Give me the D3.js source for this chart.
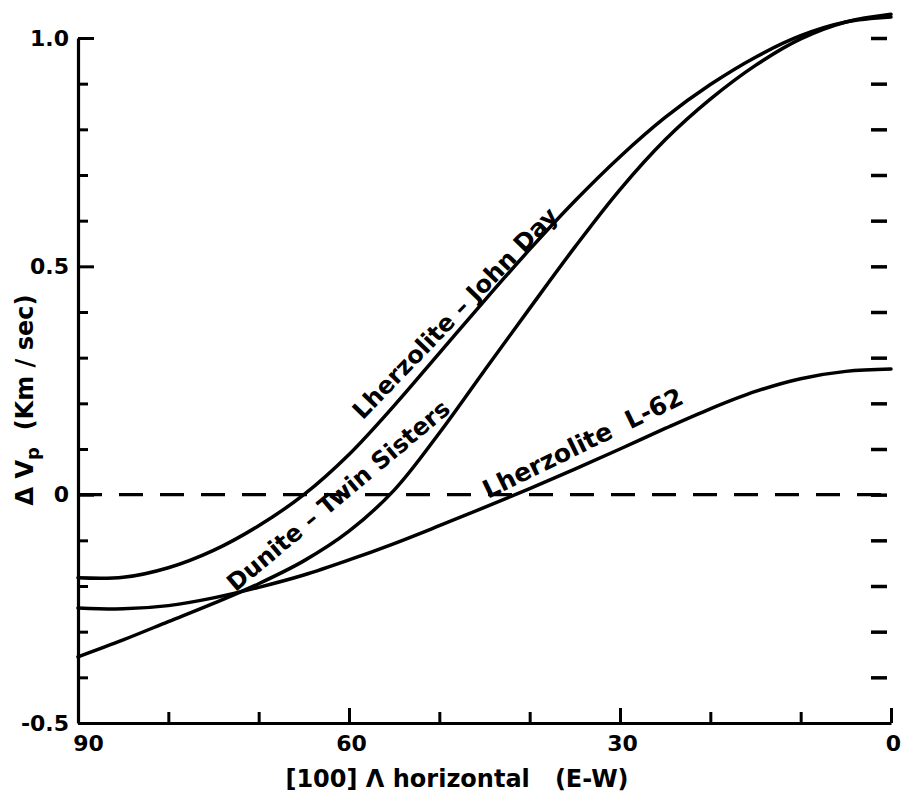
<!DOCTYPE html>
<html lang="en">
  <head>
    <meta charset="UTF-8" />
    <title>ΔVp vs [100] angle</title>
    <style type="text/css">
      body {
        margin: 0;
        background: #fff;
      }
      text {
        font-family: 'DejaVu Sans', sans-serif;
        font-weight: bold;
        fill: #000;
      }
    </style>
    <script src="https://d3js.org/d3.v7.min.js"></script>
  </head>
  <body>
    <div class="chart"></div>
    <script type="text/javascript">
      // angle between [100] and horizontal (E-W), degrees
      const angles = [90, 85, 80, 75, 70, 65, 60, 55, 50, 45, 40, 35, 30, 25, 20, 15, 10, 5, 0]
      // delta Vp (km/sec)
      const johnDay = [-0.182, -0.181, -0.16, -0.122, -0.068, 0.0, 0.088, 0.195, 0.31, 0.425, 0.537, 0.643, 0.74, 0.826, 0.898, 0.958, 1.005, 1.035, 1.046]
      const twinSisters = [-0.355, -0.318, -0.278, -0.238, -0.195, -0.145, -0.08, 0.01, 0.135, 0.272, 0.408, 0.542, 0.668, 0.777, 0.866, 0.94, 0.998, 1.035, 1.052]
      const l62 = [-0.248, -0.25, -0.243, -0.226, -0.203, -0.176, -0.143, -0.107, -0.068, -0.028, 0.013, 0.056, 0.1, 0.145, 0.188, 0.226, 0.254, 0.27, 0.275]

      const seriesValues = [johnDay, twinSisters, l62]
      // curve labels: text, [angle, value] of baseline centre, rotation
      const labelText = ['Lherzolite – John Day', 'Dunite – Twin Sisters', 'Lherzolite  L-62']
      const labelAt = [[47.6, 0.385], [60.6, -0.016], [33.7, 0.096]]
      const labelRot = [-46, -40, -26]

      const xTicks = [90, 80, 70, 60, 50, 40, 30, 20, 10, 0]
      const yTicks = [-0.5, -0.4, -0.3, -0.2, -0.1, 0, 0.1, 0.2, 0.3, 0.4, 0.5, 0.6, 0.7, 0.8, 0.9, 1.0]
      const yTickLabels = { '-0.5': '-0.5', '0': '0', '0.5': '0.5', '1': '1.0' }
      const xTickLabels = { 90: '90', 60: '60', 30: '30', 0: '0' }

      const width = 904
      const height = 801

      const svg = d3
        .select('.chart')
        .append('svg')
        .attr('width', width)
        .attr('height', height)
        .style('background-color', '#fff')

      const x = d3.scaleLinear().domain([90, 0]).range([78, 891])
      const y = d3.scaleLinear().domain([-0.5, 1.0]).range([723, 38])

      // zero line
      svg
        .append('line')
        .attr('x1', x(90))
        .attr('x2', x(0))
        .attr('y1', y(0))
        .attr('y2', y(0))
        .attr('stroke', '#000')
        .attr('stroke-width', 3.2)
        .attr('stroke-dasharray', '24 17')

      // left axis
      const yAxis = svg
        .append('g')
        .attr('transform', `translate(${x(90)},0)`)
        .call(
          d3
            .axisLeft(y)
            .tickValues(yTicks)
            .tickSize(-10)
            .tickSizeOuter(0)
            .tickPadding(9)
            .tickFormat((d) => yTickLabels[String(+d.toFixed(1))] || '')
        )
      yAxis.select('.domain').attr('stroke-width', 3.2)
      yAxis.selectAll('.tick line').attr('stroke-width', 3).attr('x2', (d) => (yTickLabels[String(+d.toFixed(1))] ? 16 : 10))
      yAxis.selectAll('.tick text').style('font-size', '22px').style('font-family', "'DejaVu Sans', sans-serif")

      // bottom axis
      const xAxis = svg
        .append('g')
        .attr('transform', `translate(0,${y(-0.5)})`)
        .call(
          d3
            .axisBottom(x)
            .tickValues(xTicks)
            .tickSize(-11)
            .tickSizeOuter(0)
            .tickPadding(12)
            .tickFormat((d) => xTickLabels[d] || '')
        )
      xAxis.select('.domain').attr('stroke-width', 3.2)
      xAxis.selectAll('.tick line').attr('stroke-width', 3).attr('y2', (d) => (xTickLabels[d] ? -15 : -11))
      xAxis
        .selectAll('.tick text')
        .style('font-size', '22px')
        .style('font-family', "'DejaVu Sans', sans-serif")
        .attr('dx', (d) => (d === 90 ? 10 : 2))
      xAxis.selectAll('.tick').filter((d) => d === 90).select('line').remove()

      // right-hand ticks (no axis line)
      const rAxis = svg
        .append('g')
        .attr('transform', `translate(${x(0) - 4},0)`)
        .call(d3.axisRight(y).tickValues(yTicks.filter((d) => d > -0.45)).tickSize(-16).tickFormat(''))
      rAxis.select('.domain').remove()
      rAxis.selectAll('.tick line').attr('stroke-width', 3.5)

      // curves
      const line = d3
        .line()
        .x((d) => x(d[0]))
        .y((d) => y(d[1]))
        .curve(d3.curveCatmullRom.alpha(0.5))

      svg
        .append('g')
        .attr('fill', 'none')
        .selectAll('path')
        .data(seriesValues)
        .join('path')
        .attr('d', (vals) => line(angles.map((a, i) => [a, vals[i]])))
        .attr('stroke', '#000')
        .attr('stroke-width', 3.5)
        .attr('stroke-linecap', 'round')

      // curve labels
      svg
        .append('g')
        .selectAll('text')
        .data(labelText)
        .join('text')
        .attr('transform', (d, i) => `translate(${x(labelAt[i][0])},${y(labelAt[i][1])}) rotate(${labelRot[i]})`)
        .attr('text-anchor', 'middle')
        .style('font-size', (d, i) => (i === 2 ? '25px' : '24px'))
        .style('white-space', 'pre')
        .text((d) => d)

      // axis titles
      svg
        .append('text')
        .attr('x', 457)
        .attr('y', 787)
        .attr('text-anchor', 'middle')
        .style('font-size', '24px')
        .style('white-space', 'pre')
        .text('[100] Λ horizontal   (E-W)')

      const yTitle = svg
        .append('text')
        .attr('transform', 'translate(33,400) rotate(-90)')
        .attr('text-anchor', 'middle')
        .style('font-size', '24px')
        .style('white-space', 'pre')
      yTitle.append('tspan').text('Δ V')
      yTitle.append('tspan').attr('dy', 6).style('font-size', '18px').text('p')
      yTitle.append('tspan').attr('dy', -6).text('  (Km / sec)')
    </script>
  </body>
</html>
